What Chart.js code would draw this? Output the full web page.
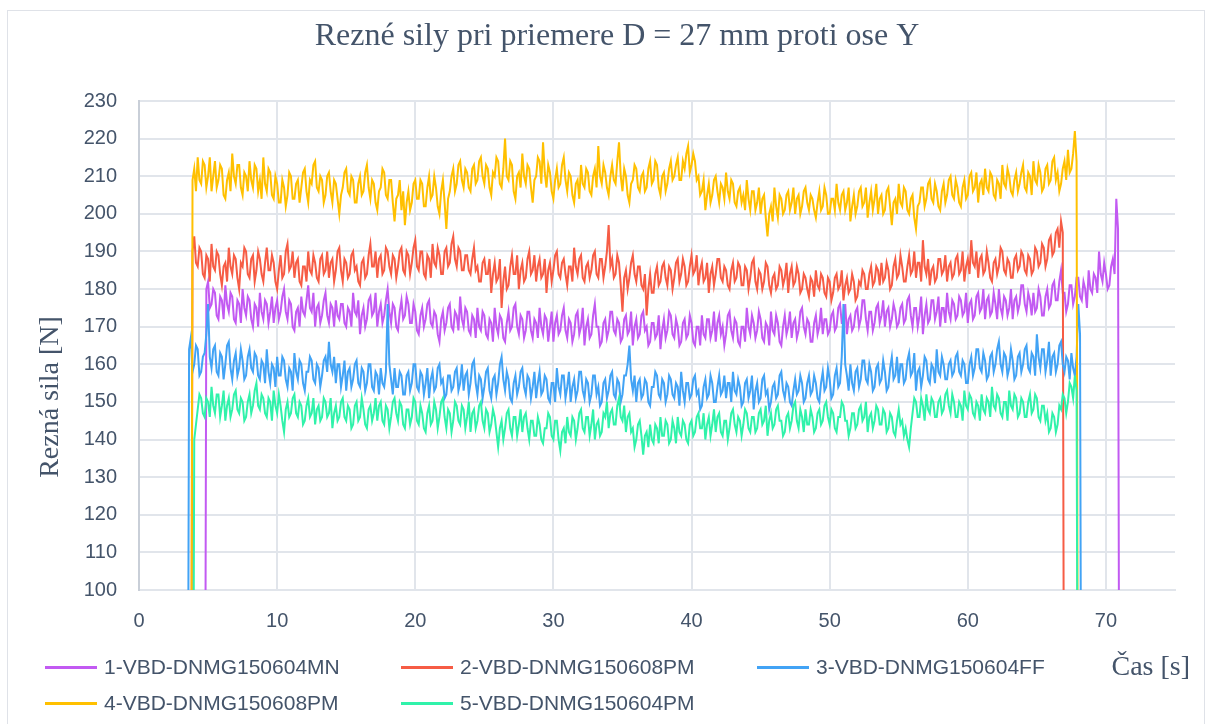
<!DOCTYPE html>
<html>
<head>
<meta charset="utf-8">
<script src="https://cdn.jsdelivr.net/npm/chart.js@4.4.1/dist/chart.umd.min.js"></script>
<style>
    html, body { margin: 0; padding: 0; background: #fff; width: 1212px; height: 724px; overflow: hidden; }
    #frame { position: absolute; left: 7px; top: 10px; width: 1196px; height: 714px; border: 1px solid #dfe2e8; }
    #legend {
        position: absolute; left: 45px; top: 652px;
        display: grid; grid-template-columns: 356px 356px 356px; grid-auto-rows: 36px;
        font: 21px "Liberation Sans", Arial, sans-serif; color: #44546a;
    }
    .item { display: flex; align-items: center; height: 30px; }
    .swatch { width: 52px; height: 3px; margin-right: 7px; }
</style>
</head>
<body>
<div id="frame"><canvas id="forceChart"></canvas></div>
<div id="legend"></div>
<script>
const chartTitle = "Rezné sily pri priemere D = 27 mm proti ose Y";
const xTitle = "Čas [s]";
const yTitle = "Rezná sila [N]";

const seriesNames = [
    "1-VBD-DNMG150604MN",
    "2-VBD-DNMG150608PM",
    "3-VBD-DNMG150604FF",
    "4-VBD-DNMG150608PM",
    "5-VBD-DNMG150604PM"
];
const seriesColors = ["#c25af2", "#f65c45", "#42a3f5", "#ffc000", "#30f2aa"];

// samples every 0.125 s, first sample time per series
const dt = 0.125;
const startTimes = [4.75, 3.75, 3.5, 3.75, 3.75];

const force1 = [
    0, 180, 182, 175, 176, 180, 179, 173, 172, 178, 177, 172, 181, 176, 174, 179, 178, 172, 171, 177, 176, 171, 180, 175, 173, 178, 177, 172, 170, 176, 175, 170, 179, 174, 172, 177, 176, 171, 174, 178,
    171, 175, 177, 172, 174, 178, 180, 174, 172, 177, 176, 170, 169, 174, 175, 170, 178, 174, 173, 177, 181, 175, 174, 179, 170, 175, 176, 171, 173, 177, 179, 173, 171, 176, 175, 170, 177, 173, 172, 176,
    176, 171, 170, 175, 174, 170, 179, 174, 173, 177, 168, 173, 175, 170, 172, 177, 178, 173, 174, 179, 170, 174, 176, 171, 173, 177, 180, 174, 171, 176, 175, 170, 169, 174, 177, 172, 173, 178, 176, 171,
    171, 176, 174, 169, 168, 173, 175, 170, 172, 176, 177, 171, 170, 174, 173, 168, 166, 172, 174, 169, 171, 175, 176, 170, 169, 174, 173, 169, 178, 172, 170, 175, 174, 169, 168, 173, 172, 167, 175, 170,
    169, 174, 173, 168, 167, 172, 171, 166, 175, 170, 168, 173, 172, 167, 166, 171, 174, 169, 170, 175, 176, 170, 168, 173, 172, 167, 169, 174, 174, 169, 167, 172, 171, 167, 175, 170, 168, 173, 172, 166,
    170, 174, 166, 171, 173, 168, 169, 173, 175, 169, 167, 172, 171, 166, 168, 173, 174, 168, 170, 175, 165, 170, 172, 167, 168, 173, 176, 170, 170, 165, 166, 171, 172, 167, 169, 174, 174, 169, 168, 172,
    171, 166, 167, 172, 173, 168, 169, 174, 165, 170, 172, 167, 168, 173, 174, 169, 170, 165, 166, 171, 171, 167, 168, 173, 164, 169, 172, 167, 169, 174, 173, 168, 167, 172, 170, 165, 166, 171, 172, 167,
    168, 173, 171, 166, 165, 170, 170, 165, 173, 168, 167, 172, 172, 167, 169, 174, 166, 171, 173, 168, 170, 165, 168, 173, 174, 169, 167, 172, 171, 166, 165, 170, 170, 166, 175, 170, 168, 173, 171, 167,
    169, 174, 172, 167, 166, 171, 170, 165, 174, 169, 168, 173, 171, 166, 165, 170, 173, 168, 170, 174, 167, 171, 172, 167, 169, 174, 175, 170, 168, 172, 171, 166, 166, 171, 173, 168, 170, 175, 168, 172,
    172, 168, 169, 173, 174, 169, 170, 175, 176, 171, 171, 176, 168, 172, 173, 169, 170, 174, 175, 170, 172, 177, 177, 172, 169, 174, 174, 169, 171, 175, 176, 171, 173, 177, 170, 174, 175, 170, 172, 176,
    174, 170, 171, 175, 176, 171, 172, 177, 178, 173, 170, 175, 175, 170, 173, 178, 168, 173, 176, 171, 172, 177, 177, 172, 174, 178, 170, 175, 175, 171, 179, 174, 172, 177, 176, 172, 173, 178, 177, 173,
    174, 179, 171, 176, 177, 172, 173, 178, 179, 174, 175, 180, 172, 177, 178, 173, 174, 179, 176, 172, 180, 175, 173, 178, 177, 173, 175, 180, 172, 177, 178, 174, 176, 181, 181, 176, 174, 179, 177, 173,
    179, 174, 175, 180, 178, 173, 173, 178, 180, 175, 176, 181, 182, 177, 177, 182, 185, 179, 179, 174, 176, 181, 181, 176, 178, 183, 183, 178, 177, 182, 180, 175, 185, 180, 179, 184, 183, 179, 190, 184,
    182, 187, 184, 180, 181, 186, 188, 184, 204, 196, 0
];

const force2 = [
    0, 190, 194, 187, 186, 191, 190, 184, 183, 189, 188, 182, 192, 186, 185, 190, 189, 184, 181, 186, 187, 182, 191, 186, 184, 189, 188, 183, 180, 187, 186, 191, 190, 184, 183, 188, 189, 182, 185, 190,
    188, 184, 182, 187, 191, 185, 185, 189, 187, 182, 180, 185, 189, 183, 184, 190, 192, 185, 186, 190, 183, 187, 188, 182, 181, 186, 186, 182, 190, 185, 184, 189, 187, 183, 182, 188, 189, 184, 185, 190,
    183, 187, 188, 182, 185, 190, 191, 185, 182, 188, 187, 183, 184, 189, 190, 185, 186, 182, 181, 187, 188, 183, 184, 189, 192, 186, 186, 190, 183, 188, 189, 184, 185, 191, 190, 186, 184, 189, 188, 183,
    186, 190, 191, 185, 184, 190, 189, 184, 187, 191, 193, 186, 185, 190, 190, 184, 183, 189, 188, 183, 192, 187, 186, 191, 189, 184, 184, 190, 191, 186, 187, 192, 194, 188, 186, 191, 190, 185, 185, 189,
    189, 185, 184, 188, 191, 185, 186, 182, 182, 187, 188, 184, 184, 188, 179, 184, 187, 182, 183, 188, 175, 182, 186, 180, 181, 186, 189, 184, 184, 189, 180, 185, 187, 182, 183, 188, 190, 184, 185, 189,
    182, 186, 188, 183, 184, 188, 179, 185, 187, 182, 185, 189, 190, 184, 183, 187, 188, 184, 181, 186, 186, 182, 191, 186, 184, 188, 189, 183, 182, 186, 187, 183, 185, 189, 190, 184, 183, 188, 188, 183,
    186, 190, 197, 186, 188, 183, 184, 189, 187, 181, 174, 183, 185, 180, 183, 187, 189, 184, 182, 186, 186, 181, 180, 184, 173, 180, 184, 179, 179, 184, 186, 181, 182, 186, 187, 183, 181, 186, 185, 180,
    183, 187, 188, 182, 184, 188, 186, 181, 182, 186, 189, 184, 185, 189, 181, 185, 187, 182, 183, 187, 179, 184, 186, 181, 184, 188, 188, 183, 182, 186, 185, 181, 180, 185, 187, 182, 183, 187, 186, 181,
    181, 186, 185, 180, 183, 187, 188, 182, 180, 185, 184, 180, 182, 187, 186, 181, 179, 183, 184, 180, 181, 186, 185, 181, 183, 187, 179, 184, 186, 181, 182, 186, 184, 179, 180, 184, 183, 180, 178, 183,
    182, 178, 185, 181, 180, 184, 183, 179, 178, 183, 182, 177, 179, 183, 184, 180, 181, 185, 177, 181, 183, 179, 180, 184, 182, 177, 178, 182, 181, 185, 184, 180, 180, 184, 186, 181, 182, 186, 185, 181,
    187, 182, 183, 187, 185, 180, 181, 186, 188, 183, 184, 189, 186, 182, 182, 186, 189, 184, 185, 190, 183, 187, 187, 182, 193, 186, 184, 188, 181, 185, 186, 182, 183, 188, 188, 184, 185, 189, 182, 186,
    187, 183, 184, 188, 189, 184, 185, 190, 182, 186, 188, 184, 193, 187, 186, 190, 183, 188, 189, 184, 185, 190, 187, 183, 182, 187, 188, 184, 186, 191, 190, 185, 184, 188, 187, 183, 183, 188, 189, 185,
    186, 190, 189, 185, 184, 189, 188, 184, 185, 191, 190, 186, 187, 192, 191, 186, 188, 193, 194, 189, 190, 195, 196, 191, 198, 195, 0
];

const force3 = [
    0, 164, 167, 158, 160, 165, 164, 157, 158, 162, 163, 168, 176, 162, 159, 164, 165, 158, 157, 163, 162, 156, 160, 165, 166, 159, 156, 161, 163, 157, 159, 164, 161, 156, 157, 162, 164, 159, 158, 163,
    162, 157, 156, 161, 160, 155, 164, 158, 155, 160, 159, 154, 162, 157, 157, 162, 161, 156, 154, 159, 158, 153, 163, 158, 156, 161, 160, 155, 153, 158, 158, 162, 161, 156, 155, 160, 159, 154, 157, 161,
    162, 158, 166, 160, 158, 162, 155, 160, 160, 154, 157, 161, 153, 158, 159, 154, 156, 160, 161, 155, 154, 159, 158, 153, 155, 160, 160, 154, 153, 158, 157, 152, 159, 155, 154, 158, 176, 160, 156, 152,
    159, 154, 154, 158, 157, 152, 152, 157, 158, 153, 155, 160, 160, 154, 153, 158, 157, 152, 155, 159, 151, 156, 158, 153, 154, 159, 160, 155, 156, 151, 152, 157, 157, 153, 154, 158, 159, 153, 155, 160,
    153, 157, 158, 152, 155, 160, 161, 155, 152, 157, 156, 151, 154, 158, 159, 153, 151, 156, 157, 152, 155, 160, 162, 156, 153, 158, 156, 151, 150, 155, 157, 152, 154, 158, 159, 154, 152, 157, 156, 151,
    154, 158, 151, 155, 158, 152, 153, 157, 156, 151, 150, 155, 155, 150, 159, 154, 152, 157, 157, 151, 154, 158, 150, 154, 156, 151, 153, 158, 158, 153, 151, 156, 155, 150, 152, 157, 157, 152, 154, 149,
    150, 155, 156, 151, 153, 157, 158, 152, 151, 156, 155, 150, 152, 157, 157, 160, 165, 156, 153, 157, 150, 155, 156, 151, 152, 156, 155, 150, 149, 154, 154, 158, 157, 152, 151, 156, 155, 150, 152, 157,
    156, 152, 151, 155, 154, 149, 158, 153, 150, 155, 155, 151, 152, 156, 157, 152, 153, 148, 149, 154, 156, 151, 152, 157, 155, 150, 150, 154, 157, 152, 153, 157, 151, 155, 155, 150, 158, 153, 152, 156,
    154, 149, 150, 155, 156, 151, 153, 157, 148, 153, 155, 150, 151, 156, 157, 152, 153, 148, 150, 154, 155, 151, 152, 157, 158, 153, 151, 155, 154, 150, 149, 153, 156, 152, 153, 157, 155, 150, 151, 155,
    157, 152, 153, 157, 155, 151, 150, 155, 158, 153, 154, 159, 156, 151, 152, 157, 159, 154, 155, 162, 176, 160, 157, 153, 160, 155, 153, 158, 159, 154, 156, 161, 161, 156, 155, 160, 158, 153, 154, 159,
    160, 155, 156, 161, 158, 153, 154, 159, 162, 156, 157, 162, 155, 160, 160, 155, 156, 161, 163, 157, 158, 163, 153, 158, 159, 154, 157, 162, 161, 156, 155, 160, 159, 155, 164, 158, 157, 162, 160, 156,
    156, 160, 161, 157, 158, 162, 163, 158, 157, 161, 160, 155, 155, 160, 162, 157, 159, 164, 164, 159, 158, 163, 161, 156, 157, 162, 163, 158, 160, 164, 166, 160, 158, 163, 162, 157, 159, 164, 161, 156,
    157, 162, 163, 158, 160, 164, 165, 159, 158, 163, 162, 157, 168, 162, 159, 164, 164, 158, 161, 166, 157, 162, 163, 158, 160, 165, 166, 160, 158, 162, 161, 156, 163, 159, 157, 162, 176, 168, 0
];

const force4 = [
    0, 209, 212, 206, 215, 209, 208, 214, 213, 207, 210, 215, 206, 210, 214, 207, 209, 213, 212, 205, 204, 209, 211, 206, 216, 210, 208, 213, 213, 207, 205, 211, 210, 206, 214, 209, 207, 213, 212, 206,
    209, 204, 215, 208, 206, 212, 211, 205, 204, 210, 208, 203, 203, 209, 207, 202, 205, 211, 210, 204, 204, 208, 209, 203, 207, 211, 212, 206, 203, 209, 208, 213, 214, 207, 206, 210, 209, 203, 205, 210,
    211, 206, 203, 209, 208, 204, 200, 205, 207, 211, 212, 206, 205, 210, 209, 203, 203, 208, 210, 205, 206, 211, 213, 207, 204, 209, 208, 203, 201, 206, 207, 212, 211, 205, 204, 209, 209, 203, 198, 204,
    205, 209, 201, 206, 197, 203, 206, 201, 203, 208, 209, 204, 204, 209, 208, 202, 202, 207, 210, 204, 205, 210, 207, 202, 200, 206, 209, 203, 196, 204, 206, 210, 212, 206, 208, 213, 214, 209, 207, 212,
    211, 207, 206, 212, 213, 208, 209, 214, 215, 210, 208, 213, 212, 207, 205, 211, 210, 215, 214, 208, 207, 212, 220, 210, 209, 214, 213, 206, 204, 210, 211, 207, 216, 210, 208, 213, 212, 207, 203, 209,
    210, 215, 214, 208, 219, 211, 207, 213, 211, 206, 204, 209, 212, 207, 208, 213, 215, 209, 206, 211, 210, 205, 203, 208, 209, 204, 213, 208, 207, 212, 211, 206, 205, 210, 212, 207, 218, 210, 208, 213,
    211, 207, 205, 210, 213, 209, 208, 214, 219, 210, 206, 212, 210, 205, 203, 208, 209, 213, 212, 207, 206, 210, 211, 206, 207, 212, 214, 208, 209, 214, 213, 207, 205, 210, 211, 206, 208, 212, 214, 209,
    210, 213, 215, 209, 209, 214, 212, 216, 218, 211, 213, 216, 214, 209, 210, 205, 206, 209, 201, 205, 208, 203, 205, 209, 210, 206, 203, 208, 207, 204, 211, 206, 204, 209, 208, 203, 202, 206, 207, 203,
    205, 201, 209, 204, 201, 206, 206, 201, 203, 207, 200, 204, 205, 199, 194, 200, 202, 198, 207, 202, 199, 205, 204, 200, 201, 205, 206, 201, 203, 207, 200, 204, 205, 200, 202, 206, 207, 203, 201, 205,
    204, 201, 199, 203, 206, 201, 202, 207, 205, 200, 200, 204, 204, 201, 208, 203, 201, 205, 206, 201, 203, 207, 198, 202, 205, 200, 202, 206, 207, 202, 203, 207, 199, 203, 206, 201, 204, 208, 200, 204,
    205, 200, 201, 206, 207, 202, 197, 203, 204, 200, 208, 203, 202, 207, 206, 201, 200, 204, 205, 199, 196, 202, 203, 207, 207, 202, 204, 208, 209, 204, 203, 208, 206, 202, 201, 206, 208, 203, 205, 209,
    210, 205, 204, 209, 207, 203, 202, 207, 209, 204, 205, 210, 211, 206, 207, 211, 203, 208, 209, 205, 212, 207, 206, 211, 210, 205, 204, 209, 208, 204, 213, 208, 207, 212, 210, 206, 205, 209, 211, 206,
    208, 211, 213, 207, 206, 211, 210, 205, 214, 209, 208, 213, 211, 206, 207, 212, 213, 208, 209, 214, 215, 209, 211, 206, 208, 212, 214, 209, 217, 211, 212, 216, 222, 214, 0
];

const force5 = [
    0, 0, 140, 144, 148, 152, 151, 147, 146, 151, 150, 146, 154, 149, 147, 152, 152, 146, 149, 153, 145, 149, 151, 146, 148, 152, 153, 148, 147, 151, 150, 145, 146, 150, 152, 147, 149, 153, 155, 149,
    148, 152, 151, 147, 146, 151, 150, 145, 153, 149, 147, 152, 149, 145, 142, 148, 150, 146, 147, 151, 152, 147, 146, 150, 149, 144, 145, 149, 151, 146, 147, 151, 144, 148, 149, 145, 146, 151, 150, 146,
    147, 151, 143, 147, 149, 145, 146, 150, 151, 146, 145, 149, 148, 143, 144, 149, 150, 145, 146, 151, 148, 144, 143, 148, 149, 145, 147, 151, 145, 149, 150, 145, 144, 149, 148, 143, 146, 150, 151, 147,
    145, 150, 149, 144, 143, 148, 148, 144, 146, 151, 150, 145, 144, 149, 147, 143, 142, 147, 149, 144, 145, 150, 148, 143, 146, 150, 151, 146, 143, 148, 147, 142, 145, 150, 149, 145, 144, 149, 148, 143,
    146, 150, 142, 147, 148, 143, 145, 149, 150, 145, 143, 148, 147, 142, 144, 148, 146, 142, 138, 143, 145, 140, 143, 147, 148, 143, 141, 146, 146, 141, 144, 148, 142, 146, 147, 143, 140, 145, 145, 141,
    141, 146, 144, 140, 139, 143, 143, 147, 146, 141, 140, 145, 145, 140, 137, 142, 143, 139, 146, 142, 141, 146, 145, 140, 143, 147, 148, 143, 142, 146, 146, 141, 144, 148, 140, 144, 145, 141, 142, 147,
    146, 150, 143, 147, 148, 144, 144, 149, 151, 146, 145, 149, 142, 146, 147, 142, 143, 138, 140, 144, 145, 141, 136, 141, 142, 138, 144, 140, 139, 144, 143, 139, 146, 141, 141, 145, 144, 139, 140, 145,
    143, 139, 146, 142, 141, 145, 144, 140, 139, 144, 145, 141, 142, 146, 147, 143, 143, 147, 140, 144, 146, 141, 144, 148, 142, 146, 147, 142, 141, 145, 145, 140, 143, 147, 148, 144, 142, 146, 145, 141,
    144, 148, 147, 143, 142, 146, 146, 142, 143, 147, 148, 144, 145, 149, 141, 145, 147, 143, 144, 148, 149, 145, 145, 141, 142, 146, 147, 143, 145, 149, 150, 145, 143, 148, 146, 142, 148, 144, 144, 148,
    146, 142, 143, 147, 148, 144, 145, 149, 150, 146, 144, 148, 147, 143, 142, 146, 146, 150, 149, 145, 145, 141, 143, 147, 147, 143, 144, 148, 149, 145, 146, 150, 142, 146, 147, 143, 145, 149, 148, 144,
    144, 148, 147, 142, 143, 147, 146, 142, 141, 145, 148, 144, 145, 141, 143, 140, 138, 143, 147, 151, 150, 146, 146, 151, 149, 145, 152, 148, 147, 151, 150, 146, 146, 150, 151, 147, 148, 152, 153, 149,
    147, 152, 150, 146, 146, 150, 149, 145, 153, 149, 148, 152, 151, 147, 146, 150, 149, 145, 152, 148, 147, 151, 150, 146, 154, 149, 148, 152, 151, 147, 146, 150, 150, 145, 153, 149, 148, 152, 151, 146,
    147, 151, 150, 146, 146, 150, 152, 147, 148, 152, 151, 146, 145, 149, 149, 145, 147, 142, 143, 147, 146, 142, 144, 149, 148, 152, 151, 147, 150, 155, 154, 151, 157, 153, 0
];

const forceSeries = [force1, force2, force3, force4, force5];

const xMin = 0, xMax = 75, xStep = 10;
const yMin = 100, yMax = 230, yStep = 10;

const textColor = "#44546a";
const gridColor = "#e1e5eb";
const serif = "'Liberation Serif', 'Times New Roman', serif";
const sans = "'Liberation Sans', Arial, sans-serif";

const toPoints = (t0, values) => values.map((v, i) => ({ x: t0 + i * dt, y: v }));

const datasets = forceSeries.map((values, i) => ({
    label: seriesNames[i],
    data: toPoints(startTimes[i], values),
    borderColor: seriesColors[i],
    backgroundColor: seriesColors[i],
    borderWidth: 2,
    pointRadius: 0,
    tension: 0,
    order: forceSeries.length - i
}));

// chart title and axis titles are placed like in the original sheet
const titlesPlugin = {
    id: "sheetTitles",
    afterDraw: (c) => {
        const g = c.ctx;
        const area = c.chartArea;
        g.save();
        g.fillStyle = textColor;
        g.textBaseline = "middle";

        g.font = `32px ${serif}`;
        g.textAlign = "center";
        g.fillText(chartTitle, c.width / 2 + 11, 26);

        g.font = `28px ${serif}`;
        g.textAlign = "right";
        g.fillText(xTitle, area.right + 15, area.bottom + 78);

        g.translate(area.left - 88, area.bottom - 193);
        g.rotate(-Math.PI / 2);
        g.textAlign = "center";
        g.fillText(yTitle, 0, 0);
        g.restore();
    }
};

const ctx = document.getElementById("forceChart").getContext("2d");
const chart = new Chart(ctx, {
    type: "line",
    data: { datasets },
    plugins: [titlesPlugin],
    options: {
        responsive: true,
        maintainAspectRatio: false,
        animation: false,
        layout: { padding: { left: 26, right: 29, top: 90, bottom: 92 } },
        plugins: {
            legend: { display: false },
            tooltip: { enabled: false }
        },
        scales: {
            x: {
                type: "linear",
                min: xMin,
                max: xMax,
                afterBuildTicks: (axis) => {
                    axis.ticks = axis.ticks.filter(t => t.value % xStep === 0);
                },
                afterFit: (axis) => { axis.height = 43; },
                ticks: {
                    stepSize: xStep,
                    padding: 19,
                    color: textColor,
                    font: { family: sans, size: 20 }
                },
                grid: { color: gridColor, lineWidth: 2, drawTicks: false },
                border: { color: gridColor, width: 2 }
            },
            y: {
                min: yMin,
                max: yMax,
                afterFit: (axis) => { axis.width = 105; },
                ticks: {
                    stepSize: yStep,
                    padding: 22,
                    color: textColor,
                    font: { family: sans, size: 20 }
                },
                grid: { color: gridColor, lineWidth: 2, drawTicks: false },
                border: { color: "#c9cfd8", width: 2 }
            }
        }
    }
});

// legend laid out in fixed columns like the original
const legendBox = document.getElementById("legend");
chart.data.datasets.forEach(ds => {
    const item = document.createElement("div");
    item.className = "item";
    const swatch = document.createElement("span");
    swatch.className = "swatch";
    swatch.style.background = ds.borderColor;
    const label = document.createElement("span");
    label.textContent = ds.label;
    item.appendChild(swatch);
    item.appendChild(label);
    legendBox.appendChild(item);
});
</script>
</body>
</html>
